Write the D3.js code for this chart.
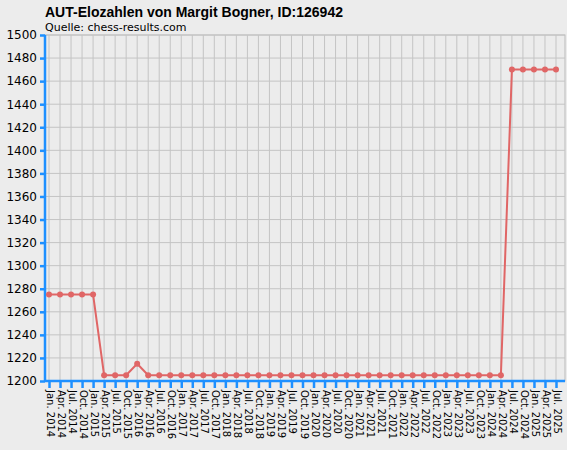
<!DOCTYPE html><html><head><meta charset="utf-8"><script src="https://cdn.jsdelivr.net/npm/d3@7"></script>
<style>body{margin:0;background:#ececec}</style></head><body><svg width="567" height="450"></svg><script>
const months=["Jan.","Apr.","Jul.","Oct."];
const labels=[];for(let y=2014;y<=2025;y++)for(const m of months){if(y===2025&&labels.length>=47)break;labels.push(m+" "+y);}
labels.length=47;
const values=[1275,1275,1275,1275,1275,1205,1205,1205,1215,1205,1205,1205,1205,1205,1205,1205,1205,1205,1205,1205,1205,1205,1205,1205,1205,1205,1205,1205,1205,1205,1205,1205,1205,1205,1205,1205,1205,1205,1205,1205,1205,1205,1470,1470,1470,1470,1470];
const yTicks=d3.range(1200,1501,20);
const svg=d3.select("svg");
svg.append("rect").attr("width",567).attr("height",450).attr("fill","#ececec");
const L=45,R=565,T=35,B=381;
const x=d3.scalePoint().domain(labels).range([49,556]);
const y=d3.scaleLinear().domain([1200,1500]).range([B,T]);
svg.append("rect").attr("x",L).attr("y",T).attr("width",R-L).attr("height",B-T).attr("fill","#ececec").attr("stroke","#bbb");
svg.append("g").selectAll("line").data(yTicks).join("line").attr("x1",L).attr("x2",R).attr("y1",d=>y(d)).attr("y2",d=>y(d)).attr("stroke","#c4c4c4");
svg.append("g").selectAll("line").data(labels).join("line").attr("x1",d=>x(d)).attr("x2",d=>x(d)).attr("y1",T).attr("y2",B).attr("stroke","#c4c4c4");
const ya=svg.append("g").attr("transform",`translate(${L},0)`).call(d3.axisLeft(y).tickValues(yTicks).tickFormat(d3.format("d")).tickSize(5).tickPadding(3));
ya.selectAll("path,line").attr("stroke","#1e90ff").attr("stroke-width",2.5);
ya.select(".domain").attr("d",`M0,${T}V${B}`);
ya.selectAll("text").attr("font-family","DejaVu Sans").attr("font-size",12).attr("fill","#000");
const xa=svg.append("g").attr("transform",`translate(0,${B})`).call(d3.axisBottom(x).tickSize(7).tickPadding(3));
xa.selectAll("path,line").attr("stroke","#1e90ff").attr("stroke-width",2.5);
xa.select(".domain").attr("d",`M${L},0H${R}`);
xa.selectAll("text").attr("font-family","DejaVu Sans").attr("font-size",10).attr("fill","#000")
 .attr("transform","rotate(90)").attr("text-anchor","start").attr("x",9).attr("y",-1).attr("dy","0.35em");
const data=labels.map((l,i)=>[l,values[i]]);
svg.append("path").datum(data).attr("fill","none").attr("stroke","#e06666").attr("stroke-width",2)
 .attr("d",d3.line().x(d=>x(d[0])).y(d=>y(d[1])));
svg.append("g").selectAll("circle").data(data).join("circle").attr("cx",d=>x(d[0])).attr("cy",d=>y(d[1])).attr("r",3).attr("fill","#e06666");
svg.append("text").attr("x",45).attr("y",17).attr("font-family","Liberation Sans").attr("font-weight","bold").attr("font-size",14).text("AUT-Elozahlen von Margit Bogner, ID:126942");
svg.append("text").attr("x",45).attr("y",31).attr("font-family","DejaVu Sans").attr("font-size",11).text("Quelle: chess-results.com");
</script></body></html>
